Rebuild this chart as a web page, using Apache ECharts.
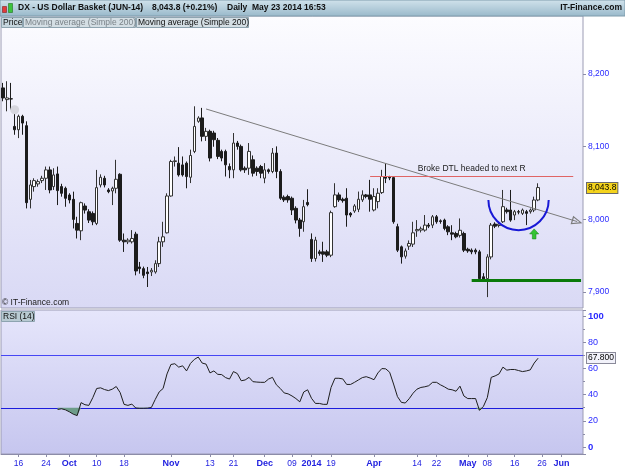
<!DOCTYPE html>
<html>
<head>
<meta charset="utf-8">
<script src="https://cdn.jsdelivr.net/npm/echarts@6/dist/echarts.min.js"></script>
<style>
html, body { margin: 0; padding: 0; background: #fff; }
#chart { width: 625px; height: 469px; }
</style>
</head>
<body>
<div id="chart"></div>
<script>
// DX - US Dollar Basket (JUN-14), daily candles + RSI(14)
var FONT = "'Liberation Sans', Arial, sans-serif";
var SLOTS = 149; // candles + empty space on the right

// OHLC (one entry per trading day)
var opens = [
  8181.0, 8164.9, 8166.0, 8128.0, 8123.4, 8141.9, 8129.0, 8027.6, 8045.1, 8048.8,
  8053.4, 8056.6, 8068.1, 8045.1, 8062.6, 8045.1, 8042.8, 8033.6, 8027.6, 7994.4,
  7984.3, 8018.4, 8010.5, 8008.2, 7994.4, 8047.4, 8056.6, 8040.5, 8039.1, 8042.8,
  8062.1, 7971.4, 7969.1, 7969.1, 7979.7, 7934.5, 7932.2, 7927.6, 7927.6, 7927.6,
  7939.1, 7969.1, 7981.5, 8032.2, 8079.7, 8077.4, 8075.0, 8077.4, 8058.0, 8093.5,
  8135.0, 8139.7, 8114.3, 8121.2, 8118.9, 8108.8, 8093.6, 8093.6, 8072.8, 8068.2,
  8105.1, 8100.5, 8070.5, 8070.5, 8082.1, 8070.5, 8072.8, 8056.7, 8068.2, 8065.9,
  8091.3, 8065.9, 8030.5, 8031.4, 8029.1, 8015.2, 7999.1, 7996.8, 8023.3, 7972.4,
  7946.1, 7955.3, 7955.3, 7955.3, 7950.7, 8017.5, 8033.7, 8027.7, 8029.1, 8008.3,
  8011.5, 8013.9, 8026.8, 8033.7, 8033.7, 8012.9, 8024.5, 8036.9, 8059.0, 8058.0,
  8057.5, 7990.0, 7962.2, 7949.3, 7963.1, 7965.9, 7984.3, 7985.2, 7985.2, 7992.1,
  7992.1, 8003.6, 7998.0, 7999.0, 7989.8, 7981.5, 7980.6, 7978.0, 7980.6, 7958.9,
  7957.6, 7957.6, 7955.3, 7921.0, 7918.4, 7948.3, 7993.5, 7991.6, 7996.7, 8013.0,
  8012.9, 8006.0, 8010.6, 8008.3, 8010.6, 8010.6, 8012.9, 8026.7
];
var closes = [
  8167.2, 8167.2, 8165.8, 8123.4, 8141.9, 8132.6, 8023.0, 8047.4, 8053.4, 8052.0,
  8056.6, 8068.1, 8040.5, 8061.2, 8039.6, 8035.9, 8029.0, 8026.7, 8000.0, 7985.2,
  8023.0, 8012.8, 7999.0, 7996.7, 8043.7, 8058.0, 8047.4, 8038.2, 8042.8, 8055.2,
  7971.4, 7969.1, 7971.4, 7973.7, 7929.0, 7932.2, 7923.0, 7925.3, 7929.9, 7939.1,
  7969.1, 7976.0, 8032.2, 8079.7, 8080.6, 8061.2, 8061.2, 8058.9, 8088.0, 8128.0,
  8139.6, 8114.3, 8121.2, 8084.4, 8109.7, 8086.7, 8084.4, 8075.1, 8068.2, 8105.1,
  8100.5, 8068.2, 8068.2, 8093.6, 8063.6, 8065.9, 8063.6, 8068.2, 8065.9, 8091.3,
  8065.9, 8029.1, 8026.8, 8026.8, 8012.9, 7999.1, 7987.6, 8017.5, 8020.3, 7946.1,
  7971.5, 7953.0, 7952.1, 7950.7, 8009.3, 8033.7, 8026.8, 8025.8, 8006.0, 8006.0,
  8018.5, 8027.7, 8033.7, 8031.4, 8027.7, 8031.4, 8036.0, 8059.0, 8056.7, 8057.0,
  7996.7, 7957.6, 7948.4, 7956.6, 7966.8, 7981.5, 7986.1, 7987.0, 7992.1, 7990.7,
  8003.6, 7996.7, 7997.0, 7987.5, 7982.9, 7979.7, 7976.0, 7985.0, 7957.6, 7956.6,
  7955.3, 7955.3, 7918.4, 7917.0, 7948.3, 7992.1, 7990.7, 7993.5, 8017.5, 8010.6,
  7999.0, 8010.6, 8010.0, 8012.9, 8008.3, 8012.9, 8026.7, 8043.8
];
var lows = [
  8162.6, 8148.8, 8151.1, 8116.5, 8111.9, 8116.5, 8015.1, 8015.1, 8038.2, 8045.0,
  8050.0, 8040.5, 8035.9, 8040.5, 8019.7, 8031.3, 8017.4, 8022.0, 7987.5, 7973.7,
  7971.4, 8008.0, 7995.0, 7992.0, 7992.1, 8044.0, 8044.0, 8036.0, 8019.7, 8035.9,
  7969.1, 7955.2, 7966.0, 7966.8, 7923.0, 7925.3, 7919.0, 7906.9, 7922.0, 7925.3,
  7934.5, 7962.2, 7980.6, 8031.3, 8072.7, 8058.9, 8058.9, 8042.8, 8050.0, 8091.2,
  8133.0, 8107.4, 8108.0, 8079.8, 8100.0, 8083.0, 8080.0, 8059.0, 8056.7, 8056.7,
  8096.0, 8065.9, 8064.0, 8061.3, 8059.0, 8060.0, 8056.7, 8049.8, 8063.0, 8063.6,
  8056.7, 8026.8, 8024.0, 8023.0, 8006.0, 7994.5, 7976.1, 7983.0, 8018.0, 7941.5,
  7942.0, 7950.0, 7941.5, 7948.0, 7948.0, 8016.0, 8024.0, 8023.0, 7989.9, 8003.0,
  8009.0, 8010.0, 8024.0, 8029.0, 8010.6, 8011.0, 8015.2, 8035.0, 8050.0, 8054.0,
  7994.0, 7955.0, 7939.1, 7946.0, 7958.0, 7962.0, 7976.0, 7982.0, 7983.0, 7988.0,
  7988.0, 7994.0, 7994.0, 7985.0, 7978.3, 7971.4, 7974.0, 7975.0, 7955.0, 7954.0,
  7952.0, 7952.0, 7915.0, 7914.0, 7893.0, 7945.0, 7988.0, 7989.0, 7995.0, 8008.0,
  7996.7, 7999.0, 8007.0, 8006.0, 7992.1, 8008.0, 8010.0, 8025.0
];
var highs = [
  8187.9, 8190.2, 8187.9, 8146.5, 8144.2, 8144.0, 8135.0, 8054.3, 8056.6, 8055.0,
  8060.0, 8072.7, 8072.7, 8070.4, 8072.7, 8049.0, 8045.1, 8036.0, 8038.2, 8003.6,
  8024.4, 8022.0, 8014.0, 8011.0, 8068.1, 8062.0, 8060.0, 8043.0, 8045.0, 8082.0,
  8063.5, 7980.6, 7974.0, 7985.2, 7982.9, 7941.4, 7935.0, 7934.5, 7933.0, 7943.7,
  7976.0, 7996.7, 8035.9, 8082.0, 8086.6, 8099.5, 8086.6, 8079.7, 8096.0, 8155.7,
  8142.0, 8153.5, 8126.0, 8123.5, 8122.0, 8112.0, 8096.0, 8096.0, 8077.0, 8118.9,
  8108.0, 8103.0, 8073.0, 8105.1, 8088.0, 8073.0, 8075.0, 8077.4, 8070.0, 8098.2,
  8100.5, 8069.0, 8033.0, 8034.0, 8031.4, 8018.0, 8002.0, 8026.8, 8041.5, 7980.7,
  7976.0, 7958.0, 7969.2, 7958.0, 8012.0, 8049.8, 8037.0, 8030.0, 8042.9, 8010.0,
  8021.0, 8038.3, 8040.0, 8035.0, 8054.4, 8042.9, 8042.9, 8068.2, 8077.4, 8060.0,
  8059.0, 7994.0, 7964.0, 7960.0, 7971.0, 7996.7, 7999.0, 7990.0, 8006.0, 7995.0,
  8006.0, 8006.0, 8000.0, 8001.0, 7992.0, 7992.0, 7983.0, 8001.3, 7983.0, 7961.0,
  7960.0, 7960.0, 7958.0, 7926.0, 7952.0, 7995.0, 7996.0, 7996.0, 8040.5, 8016.0,
  8040.5, 8013.0, 8013.0, 8015.0, 8013.0, 8015.0, 8031.3, 8049.7
];

// RSI(14), first value sits on candle 14
var rsiStart = 14;
var rsiValues = [
  28.7, 29.2, 28.4, 26.9, 25.1, 24.0, 33.9, 32.3, 31.8, 37.7,
  44.7, 45.2, 43.9, 43.1, 44.2, 46.2, 41.6, 32.6, 31.8, 32.8,
  29.8, 29.6, 29.6, 29.7, 30.2, 36.4, 42.1, 44.7, 55.8, 63.0,
  63.6, 61.0, 62.0, 58.1, 63.8, 66.9, 68.7, 64.1, 63.3, 56.6,
  58.1, 55.5, 55.3, 53.0, 51.9, 57.6, 56.1, 50.6, 51.2, 53.2,
  49.9, 49.6, 49.4, 49.4, 51.9, 53.2, 47.5, 44.7, 41.3, 40.6,
  39.0, 37.0, 34.5, 42.0, 43.7, 37.2, 33.3, 33.3, 32.6, 32.6,
  45.5, 52.5, 52.5, 52.0, 47.8, 47.8, 49.4, 51.2, 53.0, 53.7,
  52.7, 51.4, 56.6, 59.9, 59.7, 57.1, 48.1, 38.5, 34.1, 33.6,
  36.9, 41.1, 44.2, 45.5, 46.0, 46.8, 49.4, 49.4, 47.5, 46.0,
  44.2, 43.7, 42.6, 46.5, 39.0, 37.0, 37.0, 37.0, 28.0, 31.0,
  37.7, 53.2, 54.3, 55.8, 61.0, 58.7, 59.2, 59.2, 58.4, 57.6,
  58.1, 58.9, 64.1, 67.8
];

// x axis tick labels (candle index -> text)
var tickIdx  = [4, 11, 17, 24, 31, 43, 53, 59, 67, 74, 79, 84, 95, 106, 111, 119, 124, 131, 138, 143];
var tickText = ['16', '24', 'Oct', '10', '18', 'Nov', '13', '21', 'Dec', '09', '2014', '19', 'Apr', '14', '22', 'May', '08', '16', '26', 'Jun'];
var boldTicks = ['Oct', 'Nov', 'Dec', '2014', 'Apr', 'May', 'Jun'];

// annotations drawn on the chart
var trendStart = [52, 8152], trendEnd = [147, 7997];
var resistance = 8059, resistFrom = 94, resistTo = 146;
var support = 7916, supportFrom = 120, supportTo = 148;
var lastPrice = 8043.8, lastRsi = 67.8;
var rsiHigh = 70, rsiLow = 30;

var cats = [], candles = [], rsiData = [], rsiBase = [], rsiGap = [];
for (var i = 0; i < SLOTS; i++) cats.push(String(i));
for (var k = 0; k < opens.length; k++) candles.push([opens[k], closes[k], lows[k], highs[k]]);
for (var j = 0; j < rsiStart; j++) { rsiData.push('-'); rsiBase.push('-'); rsiGap.push('-'); }
rsiValues.forEach(function (v) {
  rsiData.push(v);
  rsiBase.push(Math.min(v, rsiLow));
  rsiGap.push(rsiLow - Math.min(v, rsiLow));
});

var tickMap = {};
tickIdx.forEach(function (idx, n) { tickMap[idx] = tickText[n]; });
function isTick(index) { return tickMap[index] !== undefined; }

function fmtPrice(v) {
  if (Math.abs(v % 100) > 0.001) return '';
  var s = String(Math.round(v));
  return s.slice(0, s.length - 3) + ',' + s.slice(-3);
}

var hollowArrow = 'path://M5,0L10,10L0,10Z M5,2.6L1.9,8.9L8.1,8.9Z';

var chart = echarts.init(document.getElementById('chart'));

var option = {
  animation: false,
  backgroundColor: '#ffffff',
  textStyle: { fontFamily: FONT },
  grid: [
    {
      left: 1, right: 42, top: 16, height: 292, show: true,
      borderColor: '#9c9cb4', borderWidth: 1,
      backgroundColor: { type: 'linear', x: 0, y: 0, x2: 0, y2: 1,
        colorStops: [{ offset: 0, color: '#fcfcff' }, { offset: 1, color: '#d9d9f5' }] }
    },
    {
      left: 1, right: 42, top: 310, height: 144, show: true,
      borderColor: '#9c9cb4', borderWidth: 1,
      backgroundColor: { type: 'linear', x: 0, y: 0, x2: 0, y2: 1,
        colorStops: [{ offset: 0, color: '#e6e6fb' }, { offset: 1, color: '#c6c6ef' }] }
    }
  ],
  xAxis: [
    {
      gridIndex: 0, type: 'category', data: cats, boundaryGap: true,
      axisLine: { show: false, onZero: false }, axisTick: { show: false }, axisLabel: { show: false }
    },
    {
      gridIndex: 1, type: 'category', data: cats, boundaryGap: true,
      axisLine: { show: true, onZero: false, lineStyle: { color: '#8c8ca8' } },
      axisTick: { show: true, alignWithLabel: true, length: 3, interval: isTick,
        lineStyle: { color: '#8c8ca8' } },
      axisLabel: {
        interval: isTick, margin: 5, color: '#2323e0', fontSize: 8.5,
        formatter: function (value, index) {
          var t = tickMap[index];
          if (t === undefined) return '';
          return boldTicks.indexOf(t) >= 0 ? '{b|' + t + '}' : t;
        },
        rich: { b: { fontWeight: 'bold', fontSize: 9, color: '#2323e0' } }
      }
    }
  ],
  yAxis: [
    {
      gridIndex: 0, type: 'value', position: 'right', scale: true,
      min: 7878, max: 8280, minInterval: 100, maxInterval: 100,
      splitLine: { show: false },
      axisLine: { show: false },
      axisTick: { show: true, length: 3, lineStyle: { color: '#8c8ca8' } },
      axisLabel: { color: '#2a2aff', fontSize: 8.5, margin: 5, formatter: fmtPrice,
        showMinLabel: false, showMaxLabel: false }
    },
    {
      gridIndex: 1, type: 'value', position: 'right',
      min: -5.3, max: 104.6, minInterval: 20, maxInterval: 20,
      splitLine: { show: false },
      axisLine: { show: false },
      axisTick: { show: true, length: 3, lineStyle: { color: '#8c8ca8' } },
      minorTick: { show: true, splitNumber: 2, length: 2, lineStyle: { color: '#8c8ca8' } },
      axisLabel: {
        color: '#2a2aff', fontSize: 9, margin: 5, showMinLabel: false, showMaxLabel: false,
        formatter: function (v) {
          var r = Math.round(v);
          if (Math.abs(v - r) > 0.001 || r < 0 || r > 100 || r % 20) return '';
          return (r === 0 || r === 100) ? '{b|' + r + '}' : String(r);
        },
        rich: { b: { fontWeight: 'bold', fontSize: 9.5, color: '#2a2aff' } }
      }
    }
  ],
  series: [
    {
      name: 'Price', type: 'candlestick', xAxisIndex: 0, yAxisIndex: 0,
      data: candles, barWidth: 3,
      itemStyle: { color: '#ffffff', color0: '#1c1c1c', borderColor: '#333333',
        borderColor0: '#1c1c1c', borderWidth: 1 },
      markLine: {
        silent: true, symbol: 'none', animation: false,
        label: { show: false },
        data: [
          [
            { coord: trendStart, symbol: 'none' },
            { coord: trendEnd, symbol: hollowArrow, symbolSize: [9, 11],
              lineStyle: { color: '#7c7c7c', width: 1, type: 'solid' } }
          ],
          [
            { coord: [resistFrom, resistance], symbol: 'none',
              lineStyle: { color: '#e06464', width: 1, type: 'solid' },
              label: { show: true, position: 'insideMiddleTop', distance: 3,
                formatter: 'Broke DTL headed to next R', color: '#1a1a1a',
                fontSize: 8.5, fontFamily: FONT } },
            { coord: [resistTo, resistance], symbol: 'none' }
          ],
          [
            { coord: [supportFrom, support], symbol: 'none',
              lineStyle: { color: '#0a7a0a', width: 3, type: 'solid' } },
            { coord: [supportTo, support], symbol: 'none' }
          ]
        ]
      },
      markPoint: {
        silent: true, animation: false,
        label: { show: false },
        data: [
          { coord: [3, 8151], symbol: 'circle', symbolSize: 9,
            itemStyle: { color: '#d6d6de' } },
          { coord: [136, 7980], symbol: 'path://M5,0L10,5L7,5L7,10L3,10L3,5L0,5Z',
            symbolSize: [9, 10],
            itemStyle: { color: '#33c433', borderColor: '#1f8a1f', borderWidth: 0.6 } }
        ]
      }
    },
    {
      name: 'rsiBase', type: 'line', xAxisIndex: 1, yAxisIndex: 1, stack: 'os',
      data: rsiBase, symbol: 'none', silent: true,
      lineStyle: { opacity: 0 }
    },
    {
      name: 'rsiFill', type: 'line', xAxisIndex: 1, yAxisIndex: 1, stack: 'os',
      data: rsiGap, symbol: 'none', silent: true,
      lineStyle: { opacity: 0 },
      areaStyle: { color: '#6e9c8a', opacity: 1 }
    },
    {
      name: 'RSI (14)', type: 'line', xAxisIndex: 1, yAxisIndex: 1,
      data: rsiData, symbol: 'none', z: 3,
      lineStyle: { color: '#1e1e1e', width: 1 }
    }
  ],
  graphic: [
    // title bar
    { type: 'rect', silent: true, z: 10, shape: { x: 0, y: 0, width: 625, height: 16 },
      style: { fill: { type: 'linear', x: 0, y: 0, x2: 0, y2: 1,
        colorStops: [{ offset: 0, color: '#d2e3ec' }, { offset: 1, color: '#98b8ca' }] },
        stroke: '#7f9cac', lineWidth: 1 } },
    { type: 'rect', silent: true, z: 11, shape: { x: 2.5, y: 6.5, width: 4, height: 6 },
      style: { fill: '#e23a3a', stroke: '#802020', lineWidth: 0.6 } },
    { type: 'rect', silent: true, z: 11, shape: { x: 8.5, y: 3.5, width: 4, height: 9 },
      style: { fill: '#3cc43c', stroke: '#207020', lineWidth: 0.6 } },
    { type: 'text', silent: true, z: 11, x: 18, y: 8,
      style: { text: 'DX - US Dollar Basket (JUN-14)', fill: '#101010',
        font: 'bold 8.5px ' + FONT, verticalAlign: 'middle' } },
    { type: 'text', silent: true, z: 11, x: 152, y: 8,
      style: { text: '8,043.8 (+0.21%)', fill: '#101010',
        font: 'bold 8.5px ' + FONT, verticalAlign: 'middle' } },
    { type: 'text', silent: true, z: 11, x: 227, y: 8,
      style: { text: 'Daily', fill: '#101010',
        font: 'bold 8.5px ' + FONT, verticalAlign: 'middle' } },
    { type: 'text', silent: true, z: 11, x: 252, y: 8,
      style: { text: 'May 23 2014 16:53', fill: '#101010',
        font: 'bold 8.5px ' + FONT, verticalAlign: 'middle' } },
    { type: 'text', silent: true, z: 11, x: 622, y: 8,
      style: { text: 'IT-Finance.com', fill: '#101010',
        font: 'bold 8.5px ' + FONT, align: 'right', verticalAlign: 'middle' } },
    // series tabs
    { type: 'rect', silent: true, z: 10, shape: { x: 1.5, y: 17.5, width: 21, height: 10 },
      style: { fill: '#c6d6de', stroke: '#8ea4b0', lineWidth: 1 } },
    { type: 'text', silent: true, z: 11, x: 3, y: 23,
      style: { text: 'Price', fill: '#101010', font: '8.5px ' + FONT, verticalAlign: 'middle' } },
    { type: 'rect', silent: true, z: 10, shape: { x: 23.5, y: 17.5, width: 112, height: 10 },
      style: { fill: '#d4dee4', stroke: '#8ea4b0', lineWidth: 1 } },
    { type: 'text', silent: true, z: 11, x: 25, y: 23,
      style: { text: 'Moving average (Simple 200)', fill: '#7a8288', font: '8.5px ' + FONT,
        verticalAlign: 'middle' } },
    { type: 'rect', silent: true, z: 10, shape: { x: 136.5, y: 17.5, width: 112, height: 10 },
      style: { fill: '#d4dee4', stroke: '#8ea4b0', lineWidth: 1 } },
    { type: 'text', silent: true, z: 11, x: 138, y: 23,
      style: { text: 'Moving average (Simple 200)', fill: '#101010', font: '8.5px ' + FONT,
        verticalAlign: 'middle' } },
    // watermark and RSI tab
    { type: 'text', silent: true, z: 11, x: 2, y: 303,
      style: { text: '\u00a9 IT-Finance.com', fill: '#202020', font: '8.5px ' + FONT,
        verticalAlign: 'middle' } },
    { type: 'rect', silent: true, z: 10, shape: { x: 1.5, y: 311.5, width: 33, height: 10 },
      style: { fill: '#b8cad2', stroke: '#8ea4b0', lineWidth: 1 } },
    { type: 'text', silent: true, z: 11, x: 3, y: 317,
      style: { text: 'RSI (14)', fill: '#101010', font: '8.5px ' + FONT, verticalAlign: 'middle' } }
  ]
};

chart.setOption(option);

var graphics = option.graphic.slice();
var priceRect = chart.getModel().getComponent('grid', 0).coordinateSystem.getRect();
var rsiRect = chart.getModel().getComponent('grid', 1).coordinateSystem.getRect();

// RSI overbought / oversold levels, placed through the RSI axis
function levelLine(value, color) {
  var y = Math.round(chart.convertToPixel({ xAxisIndex: 1, yAxisIndex: 1 }, [0, value])[1]) + 0.5;
  return {
    type: 'line', silent: true, z: 2,
    shape: { x1: rsiRect.x, y1: y, x2: rsiRect.x + rsiRect.width, y2: y },
    style: { stroke: color, lineWidth: 1 }
  };
}
graphics.push(levelLine(rsiHigh, '#4646f4'));
graphics.push(levelLine(rsiLow, '#1c1cdc'));

// last value tags on the right axes
function valueTag(finder, value, text, bg, border) {
  var y = chart.convertToPixel(finder, [0, value])[1];
  return {
    type: 'text', silent: true, z: 12, x: priceRect.x + priceRect.width + 4, y: Math.round(y),
    style: { text: text, fill: '#000', font: '8.5px ' + FONT, verticalAlign: 'middle',
      backgroundColor: bg, borderColor: border, borderWidth: 1, padding: [1, 1, 0, 1] }
  };
}
graphics.push(valueTag({ xAxisIndex: 0, yAxisIndex: 0 }, lastPrice, '8,043.8', '#f4d31c', '#6a6a6a'));
graphics.push(valueTag({ xAxisIndex: 1, yAxisIndex: 1 }, lastRsi, '67.800', '#f2f2fa', '#8a8a9a'));

// blue "cup" arc, placed from data coordinates
var cupCenter = [132, 8026.7], cupBottom = [132, 7985.2];
var c0 = chart.convertToPixel({ xAxisIndex: 0, yAxisIndex: 0 }, cupCenter);
var c1 = chart.convertToPixel({ xAxisIndex: 0, yAxisIndex: 0 }, cupBottom);
graphics.push({
  type: 'arc', silent: true, z: 5,
  shape: { cx: c0[0], cy: c0[1], r: c1[1] - c0[1], startAngle: 0, endAngle: Math.PI, clockwise: true },
  style: { stroke: '#1818d6', lineWidth: 2, fill: null }
});
chart.setOption({ graphic: graphics }, { replaceMerge: ['graphic'] });
</script>
</body>
</html>
